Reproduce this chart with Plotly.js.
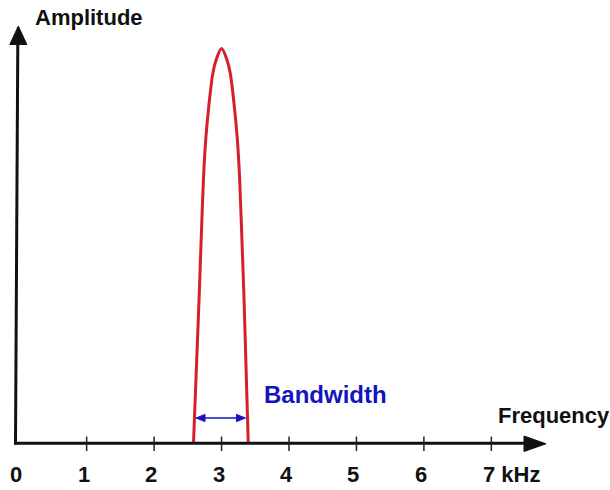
<!DOCTYPE html>
<html>
<head>
<meta charset="utf-8">
<script src="https://cdn.plot.ly/plotly-3.0.1.min.js"></script>
<style>
  html, body { margin: 0; padding: 0; background: #fff; }
  #chart { width: 610px; height: 490px; }
</style>
</head>
<body>
<div id="chart"></div>
<script>
// ---- data ----
const freqTicks = [0, 1, 2, 3, 4, 5, 6, 7];
const tickLabels = ['0', '1', '2', '3', '4', '5', '6', '7 kHz'];
const curveFreq = [2.584, 2.666, 2.696, 2.733, 2.766, 2.810, 2.871, 2.918, 3.000,
                   3.082, 3.129, 3.190, 3.234, 3.267, 3.304, 3.334, 3.396];
const curveAmp  = [0.000, 0.362, 0.507, 0.674, 0.770, 0.852, 0.937, 0.970, 1.000,
                   0.970, 0.937, 0.852, 0.770, 0.674, 0.507, 0.362, 0.000];
const bandStart = 2.62;
const bandEnd = 3.34;
const xTitle = 'Frequency';
const yTitle = 'Amplitude';
const bandLabel = 'Bandwidth';

// ---- layout helpers (page pixels -> paper coords, margins are zero) ----
const W = 610, H = 490;
const px = x => x / W;
const py = y => 1 - y / H;
const FONT = 'Liberation Sans, Arial, Helvetica, sans-serif';
const INK = '#111111';
const BLUE = '#1414bc';
const RED = '#d3202a';

const shapes = [];
// x axis line
shapes.push({type: 'line', xref: 'paper', yref: 'paper',
  x0: px(14), y0: py(443.3), x1: px(528), y1: py(443.3),
  line: {color: INK, width: 3}});
// x axis arrowhead
shapes.push({type: 'path', xref: 'paper', yref: 'paper',
  path: `M ${px(524)} ${py(436)} L ${px(546)} ${py(443.8)} L ${px(524)} ${py(451.5)} Z`,
  fillcolor: INK, line: {color: INK, width: 1}});
// y axis line
shapes.push({type: 'line', xref: 'paper', yref: 'paper',
  x0: px(15.5), y0: py(444.6), x1: px(17.8), y1: py(42),
  line: {color: INK, width: 3}});
// y axis arrowhead
shapes.push({type: 'path', xref: 'paper', yref: 'paper',
  path: `M ${px(9.8)} ${py(44.5)} L ${px(18.3)} ${py(26)} L ${px(26.8)} ${py(44.5)} Z`,
  fillcolor: INK, line: {color: INK, width: 1}});
// tick marks crossing the axis
freqTicks.slice(1).forEach(k => {
  shapes.push({type: 'line', xref: 'x', yref: 'paper',
    x0: k, x1: k, y0: py(436.5), y1: py(451),
    line: {color: '#222', width: 1.5}});
});
// bandwidth double arrow
const bandY = 418;
shapes.push({type: 'line', xref: 'x', yref: 'paper',
  x0: bandStart + 0.08, x1: bandEnd - 0.08, y0: py(bandY), y1: py(bandY),
  line: {color: BLUE, width: 1.6}});
shapes.push({type: 'path', xref: 'paper', yref: 'paper',
  path: `M ${px(196)} ${py(bandY)} L ${px(205)} ${py(bandY - 3.6)} L ${px(205)} ${py(bandY + 3.6)} Z`,
  fillcolor: BLUE, line: {color: BLUE, width: 1}});
shapes.push({type: 'path', xref: 'paper', yref: 'paper',
  path: `M ${px(245.5)} ${py(bandY)} L ${px(236.5)} ${py(bandY - 3.6)} L ${px(236.5)} ${py(bandY + 3.6)} Z`,
  fillcolor: BLUE, line: {color: BLUE, width: 1}});

const annotations = [];
freqTicks.forEach((k, i) => {
  const last = i === freqTicks.length - 1;
  annotations.push({
    x: k, xref: 'x', y: py(474.5), yref: 'paper',
    text: '<b>' + tickLabels[i] + '</b>',
    showarrow: false,
    xanchor: last ? 'left' : 'center', yanchor: 'middle',
    xshift: last ? -10.5 : -3,
    font: {family: FONT, size: 22, color: INK}
  });
});
annotations.push({x: px(33), y: py(17.5), xref: 'paper', yref: 'paper',
  text: '<b>' + yTitle + '</b>', showarrow: false, xanchor: 'left', yanchor: 'middle',
  font: {family: FONT, size: 22, color: INK}});
annotations.push({x: px(496), y: py(415), xref: 'paper', yref: 'paper',
  text: '<b>' + xTitle + '</b>', showarrow: false, xanchor: 'left', yanchor: 'middle',
  font: {family: FONT, size: 22, color: INK}});
annotations.push({x: px(262), y: py(394.5), xref: 'paper', yref: 'paper',
  text: '<b>' + bandLabel + '</b>', showarrow: false, xanchor: 'left', yanchor: 'middle',
  font: {family: FONT, size: 24, color: BLUE}});

const trace = {
  x: curveFreq, y: curveAmp,
  type: 'scatter', mode: 'lines',
  line: {color: RED, width: 3, shape: 'spline', smoothing: 1},
  hoverinfo: 'skip'
};

const layout = {
  width: W, height: H,
  margin: {l: 0, r: 0, t: 0, b: 0, pad: 0},
  paper_bgcolor: '#ffffff', plot_bgcolor: '#ffffff',
  showlegend: false,
  xaxis: {range: [-19.2 / 67.45, (W - 19.2) / 67.45], visible: false, fixedrange: true},
  yaxis: {range: [-(H - 443.3) / 394.9, 443.3 / 394.9], visible: false, fixedrange: true},
  shapes: shapes,
  annotations: annotations
};

Plotly.newPlot('chart', [trace], layout, {displayModeBar: false, staticPlot: true});
</script>
</body>
</html>
